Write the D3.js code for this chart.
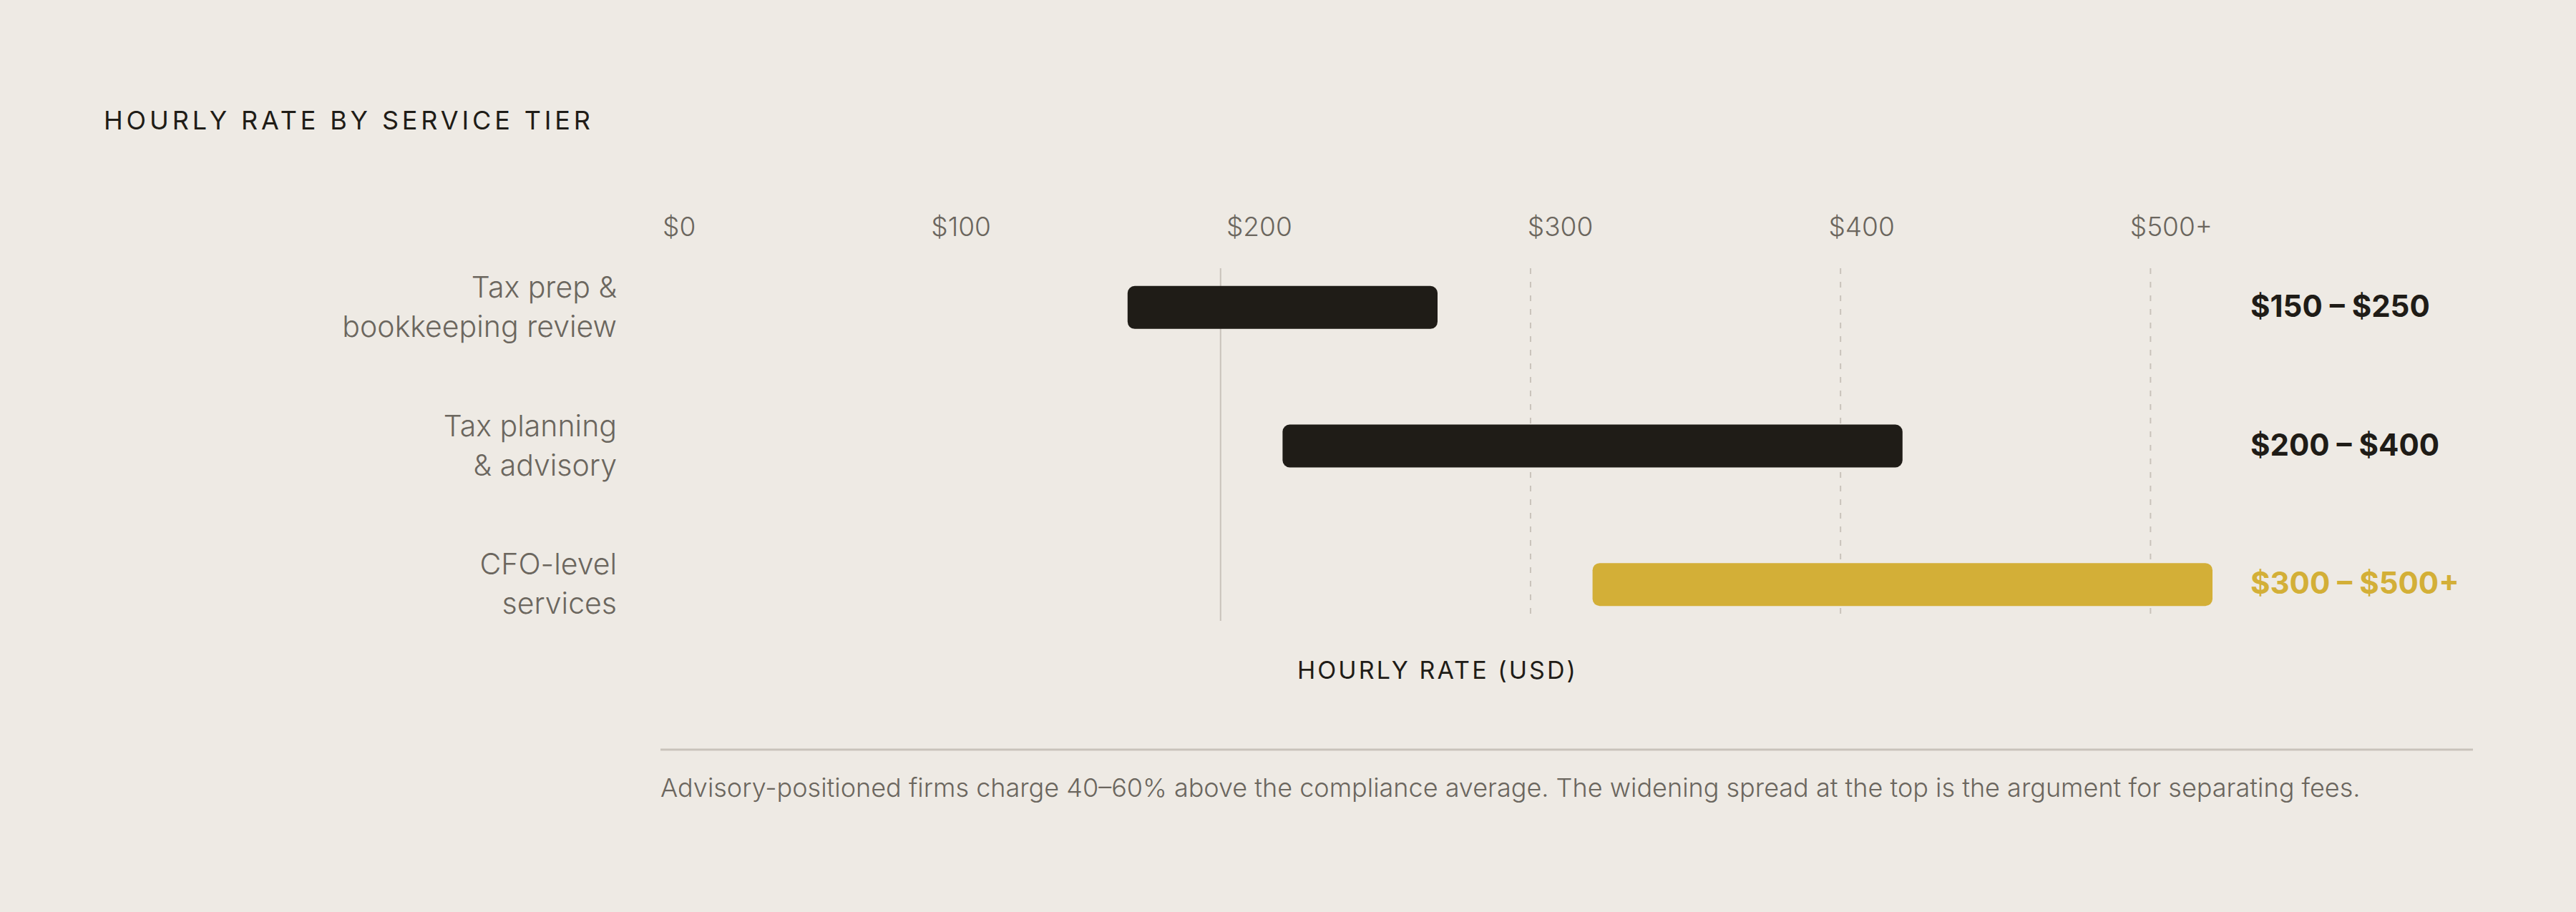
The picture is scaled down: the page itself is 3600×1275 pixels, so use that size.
<!DOCTYPE html>
<html>
<head>
<meta charset="utf-8">
<script src="https://cdn.jsdelivr.net/npm/d3@7"></script>
<style>
  html, body { margin: 0; padding: 0; background: #eeeae4; }
  svg { display: block; font-family: Inter, "DejaVu Sans", sans-serif; }
</style>
</head>
<body>
<div id="chart"></div>
<script>
const tiers = [
  ["Tax prep &", "bookkeeping review"],
  ["Tax planning", "& advisory"],
  ["CFO-level", "services"]
];
const lowRates = [150, 200, 300];
const highRates = [250, 400, 500];
const rangeLabels = ["$150 – $250", "$200 – $400", "$300 – $500+"];
const tickLabels = ["$0", "$100", "$200", "$300", "$400", "$500+"];
const gridValues = [180, 280, 380, 480];

const width = 3600;
const height = 1275;
const dark = "#1f1c17";
const gold = "#d3af37";
const grey = "#6b665e";
const lineCol = "#c9c3bb";
const highlight = 2;

const svg = d3.select("#chart")
  .append("svg")
  .attr("width", width)
  .attr("height", height);

svg.append("rect").attr("width", width).attr("height", height).attr("fill", "#eeeae4");

const x = d3.scaleLinear().domain([0, 500]).range([926, 3092]);
const y = d3.scaleBand().domain(d3.range(tiers.length)).range([333, 914]);
const barH = 60;

// title
svg.append("text")
  .attr("x", 145)
  .attr("y", 181)
  .attr("fill", dark)
  .style("font-size", "36px")
  .style("letter-spacing", "0.135em")
  .text("HOURLY RATE BY SERVICE TIER");

// tick labels, spread like flex space-between over the track
const ticks = svg.append("g")
  .selectAll("text")
  .data(tickLabels)
  .enter()
  .append("text")
  .attr("y", 330)
  .attr("fill", grey)
  .style("font-size", "37px")
  .style("font-weight", 300)
  .text((d) => d);
const widths = ticks.nodes().map((n) => n.getComputedTextLength());
const trackW = x.range()[1] - x.range()[0];
const gap = (trackW - d3.sum(widths)) / (tickLabels.length - 1);
let cursor = x.range()[0];
ticks.attr("x", (d, i) => {
  const pos = cursor;
  cursor += widths[i] + gap;
  return pos;
});

// gridlines
svg.append("g")
  .selectAll("line")
  .data(gridValues)
  .enter()
  .append("line")
  .attr("x1", (d) => x(d))
  .attr("x2", (d) => x(d))
  .attr("y1", 375)
  .attr("y2", 868)
  .attr("stroke", lineCol)
  .attr("stroke-width", 2)
  .attr("stroke-dasharray", (d, i) => (i === 0 ? null : "8,11"));

// category labels
const cats = svg.append("g")
  .selectAll("text")
  .data(tiers)
  .enter()
  .append("text")
  .attr("text-anchor", "end")
  .attr("fill", grey)
  .style("font-size", "41px")
  .style("font-weight", 300);
cats.each(function (d, i) {
  const cy = y(i) + y.bandwidth() / 2;
  d3.select(this)
    .selectAll("tspan")
    .data(d)
    .enter()
    .append("tspan")
    .attr("x", 862)
    .attr("y", (t, j) => cy - 14 + j * 55)
    .text((t) => t);
});

// range bars
svg.append("g")
  .selectAll("rect")
  .data(tiers)
  .enter()
  .append("rect")
  .attr("x", (d, i) => x(lowRates[i]))
  .attr("width", (d, i) => x(highRates[i]) - x(lowRates[i]))
  .attr("y", (d, i) => y(i) + y.bandwidth() / 2 - barH / 2)
  .attr("height", barH)
  .attr("rx", 10)
  .attr("fill", (d, i) => (i === highlight ? gold : dark));

// range value labels
svg.append("g")
  .selectAll("text")
  .data(rangeLabels)
  .enter()
  .append("text")
  .attr("x", 3145)
  .attr("y", (d, i) => y(i) + y.bandwidth() / 2 + 13)
  .attr("fill", (d, i) => (i === highlight ? gold : dark))
  .style("font-size", "42px")
  .style("font-weight", 700)
  .text((d) => d);

// axis title
svg.append("text")
  .attr("x", (x.range()[0] + x.range()[1]) / 2)
  .attr("y", 949)
  .attr("text-anchor", "middle")
  .attr("fill", dark)
  .style("font-size", "34px")
  .style("letter-spacing", "0.09em")
  .text("HOURLY RATE (USD)");

// rule + footnote
svg.append("line")
  .attr("x1", 923)
  .attr("x2", 3456)
  .attr("y1", 1048)
  .attr("y2", 1048)
  .attr("stroke", lineCol)
  .attr("stroke-width", 3);

svg.append("text")
  .attr("x", 923)
  .attr("y", 1114)
  .attr("fill", grey)
  .style("font-size", "36px")
  .style("font-weight", 300)
  .text("Advisory-positioned firms charge 40–60% above the compliance average. The widening spread at the top is the argument for separating fees.");
</script>
</body>
</html>
